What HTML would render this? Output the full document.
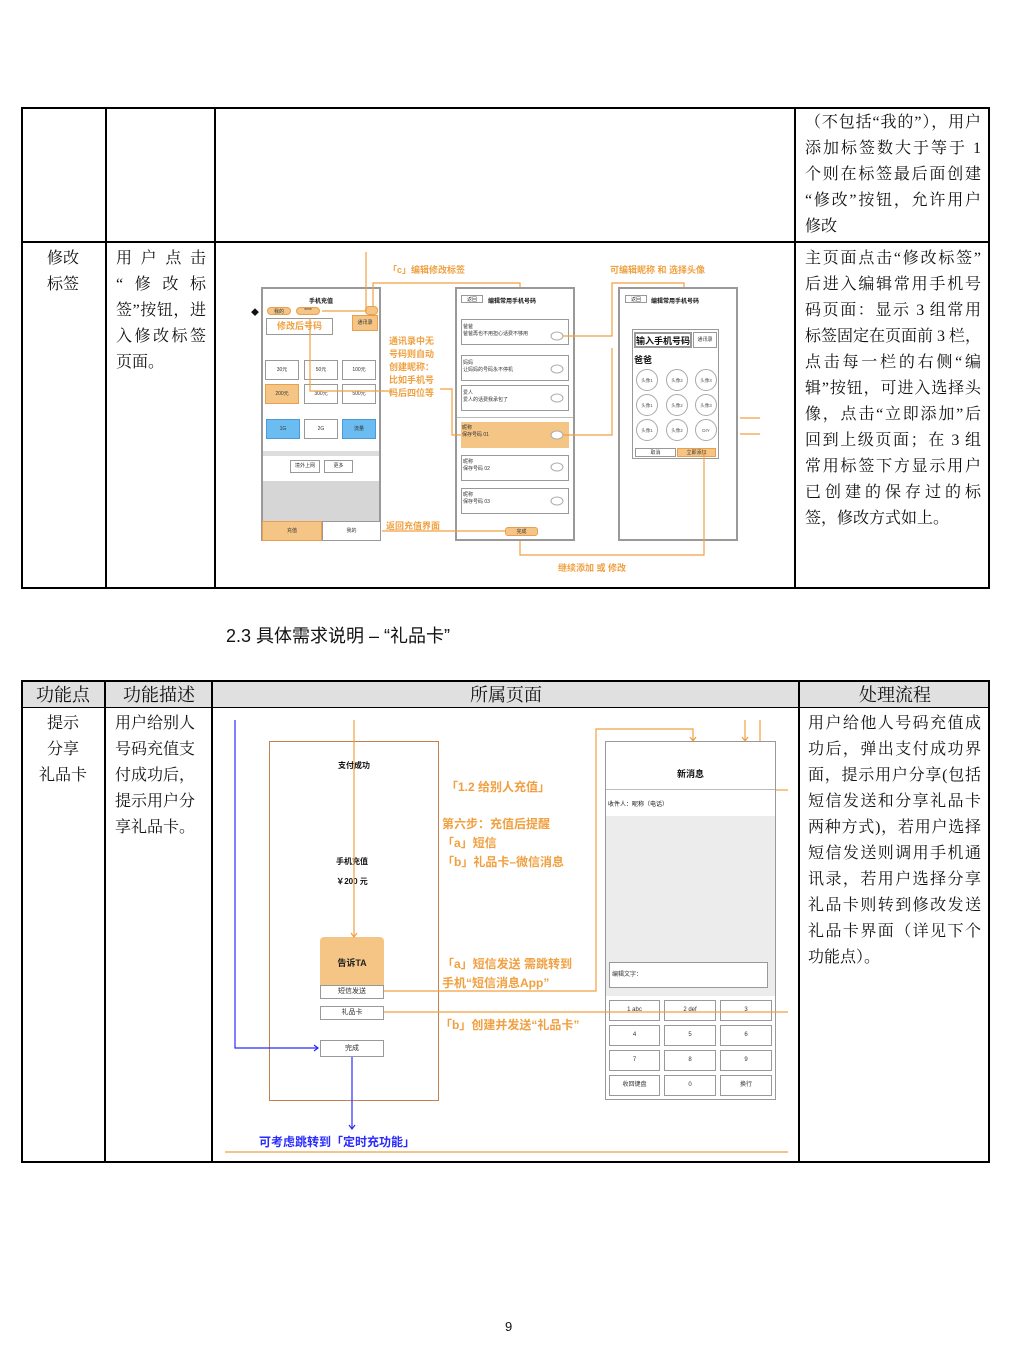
<!DOCTYPE html>
<html><head><meta charset="utf-8"><style>
body{margin:0;width:1015px;height:1361px;background:#fff;position:relative;overflow:hidden;font-family:"Liberation Serif","Noto Serif CJK SC",serif;color:#111}
.a{position:absolute}
.t{position:absolute;font-size:16px;line-height:26px;white-space:nowrap}
.j{text-align:justify;text-align-last:justify}
.s{font-family:"Liberation Sans","Noto Sans CJK SC",sans-serif}
.o{color:#f0a040;font-family:"Liberation Sans","Noto Sans CJK SC",sans-serif;font-weight:bold;position:absolute;white-space:nowrap}
.b{position:absolute;border:1px solid #999;background:#fff;box-sizing:border-box;font-family:"Liberation Sans","Noto Sans CJK SC",sans-serif;font-size:5px;text-align:center;color:#333}
.ob{background:#f5c585;border-color:#e8a050}
</style></head><body>
<!-- Table 1 -->
<div class="a" style="left:21px;top:107px;width:969px;height:482px;border:2px solid #000;box-sizing:border-box"></div>
<div class="a" style="left:105px;top:107px;width:2px;height:482px;background:#000"></div>
<div class="a" style="left:214px;top:107px;width:2px;height:482px;background:#000"></div>
<div class="a" style="left:794px;top:107px;width:2px;height:482px;background:#000"></div>
<div class="a" style="left:21px;top:241px;width:969px;height:2px;background:#000"></div>

<div class="t j" style="left:805px;top:110px;width:176px">（不包括“我的”），用户</div>
<div class="t j" style="left:805px;top:136px;width:176px">添加标签数大于等于 1</div>
<div class="t j" style="left:805px;top:162px;width:176px">个则在标签最后面创建</div>
<div class="t j" style="left:805px;top:188px;width:176px">“修改”按钮，允许用户</div>
<div class="t" style="left:805px;top:214px">修改</div>

<div class="t" style="left:47px;top:246px">修改</div>
<div class="t" style="left:47px;top:272px">标签</div>
<div class="t j" style="left:116px;top:246px;width:90px">用户点击</div>
<div class="t j" style="left:116px;top:272px;width:90px">“修改标</div>
<div class="t j" style="left:116px;top:298px;width:90px">签”按钮，进</div>
<div class="t j" style="left:116px;top:324px;width:90px">入修改标签</div>
<div class="t" style="left:116px;top:350px">页面。</div>

<div class="t j" style="left:805px;top:246px;width:176px">主页面点击“修改标签”</div>
<div class="t j" style="left:805px;top:272px;width:176px">后进入编辑常用手机号</div>
<div class="t j" style="left:805px;top:298px;width:176px">码页面：显示 3 组常用</div>
<div class="t j" style="left:805px;top:324px;width:176px">标签固定在页面前 3 栏，</div>
<div class="t j" style="left:805px;top:350px;width:176px">点击每一栏的右侧“编</div>
<div class="t j" style="left:805px;top:376px;width:176px">辑”按钮，可进入选择头</div>
<div class="t j" style="left:805px;top:402px;width:176px">像，点击“立即添加”后</div>
<div class="t j" style="left:805px;top:428px;width:176px">回到上级页面；在 3 组</div>
<div class="t j" style="left:805px;top:454px;width:176px">常用标签下方显示用户</div>
<div class="t j" style="left:805px;top:480px;width:176px">已创建的保存过的标</div>
<div class="t" style="left:805px;top:506px">签，修改方式如上。</div>

<!-- Diagram 1 phones -->
<div class="b" style="left:261px;top:287px;width:120px;height:254px;border:2px solid #999"></div>
<div class="a s" style="left:261px;top:296px;width:120px;text-align:center;font-size:6px;font-weight:bold">手机充值</div>
<div class="b ob" style="left:267px;top:307px;width:24px;height:8px;border-radius:4px">我的</div>
<div class="b ob" style="left:296px;top:307px;width:24px;height:8px;border-radius:4px">****</div>
<div class="b ob" style="left:365px;top:306px;width:13px;height:9px;border-radius:4px"></div>
<div class="b" style="left:266px;top:318px;width:67px;height:17px;color:#f0a040;font-size:9px;line-height:15px;font-weight:bold">修改后号码</div>
<div class="b ob" style="left:352px;top:315px;width:26px;height:16px;line-height:14px">通讯录</div>
<div class="b" style="left:265px;top:360px;width:34px;height:20px;line-height:18px">30元</div>
<div class="b" style="left:304px;top:360px;width:34px;height:20px;line-height:18px">50元</div>
<div class="b" style="left:342px;top:360px;width:34px;height:20px;line-height:18px">100元</div>
<div class="b ob" style="left:265px;top:384px;width:34px;height:20px;line-height:18px">200元</div>
<div class="b" style="left:304px;top:384px;width:34px;height:20px;line-height:18px">300元</div>
<div class="b" style="left:342px;top:384px;width:34px;height:20px;line-height:18px">500元</div>
<div class="b" style="left:266px;top:419px;width:34px;height:20px;background:#6bbcf0;border-color:#4a9ad8;line-height:18px">1G</div>
<div class="b" style="left:304px;top:419px;width:34px;height:20px;line-height:18px">2G</div>
<div class="b" style="left:342px;top:419px;width:34px;height:20px;background:#6bbcf0;border-color:#4a9ad8;line-height:18px">流量</div>
<div class="a" style="left:263px;top:451px;width:116px;height:5px;background:#ddd"></div>
<div class="b" style="left:290px;top:460px;width:30px;height:13px;line-height:11px">境外上网</div>
<div class="b" style="left:324px;top:460px;width:29px;height:13px;line-height:11px">更多</div>
<div class="a" style="left:263px;top:481px;width:116px;height:40px;background:#d6d6d6"></div>
<div class="b ob" style="left:262px;top:521px;width:60px;height:20px;line-height:18px">充值</div>
<div class="b" style="left:322px;top:521px;width:59px;height:20px;line-height:18px">我的</div>

<div class="b" style="left:455px;top:287px;width:120px;height:254px;border:2px solid #999"></div>
<div class="b" style="left:461px;top:295px;width:22px;height:8px">返回</div>
<div class="a s" style="left:488px;top:296px;font-size:6px;font-weight:bold">编辑常用手机号码</div>
<div class="b" style="left:461px;top:319px;width:108px;height:26px;text-align:left;padding:3px 1px">爸爸<br>爸爸再也不用担心话费不够用</div>
<div class="b" style="left:461px;top:355px;width:108px;height:26px;text-align:left;padding:3px 1px">妈妈<br>让妈妈的号码永不停机</div>
<div class="b" style="left:461px;top:385px;width:108px;height:26px;text-align:left;padding:3px 1px">爱人<br>爱人的话费我承包了</div>
<div class="a" style="left:457px;top:417px;width:116px;height:1px;background:#bbb"></div>
<div class="b ob" style="left:461px;top:422px;width:108px;height:26px;text-align:left;padding:2px 1px;border:none">昵称<br>保存号码 01</div>
<div class="b" style="left:461px;top:455px;width:108px;height:26px;text-align:left;padding:2px 1px">昵称<br>保存号码 02</div>
<div class="b" style="left:461px;top:488px;width:108px;height:26px;text-align:left;padding:2px 1px">昵称<br>保存号码 03</div>
<div class="b ob" style="left:505px;top:527px;width:33px;height:9px;border-radius:3px">完成</div>

<div class="b" style="left:618px;top:287px;width:120px;height:254px;border:2px solid #999"></div>
<div class="b" style="left:625px;top:295px;width:22px;height:8px">返回</div>
<div class="a s" style="left:651px;top:296px;font-size:6px;font-weight:bold">编辑常用手机号码</div>
<div class="b" style="left:632px;top:329px;width:87px;height:130px"></div>
<div class="b" style="left:634px;top:332px;width:58px;height:16px;font-size:9px;font-weight:bold;color:#111;line-height:14px;border-width:2px">输入手机号码</div>
<div class="b" style="left:693px;top:332px;width:24px;height:16px;line-height:14px">通讯录</div>
<div class="a s" style="left:634px;top:353px;font-size:9px;font-weight:bold">爸爸</div>
<svg class="a" style="left:0;top:0" width="1015" height="1361">
<g fill="#fff" stroke="#aaa">
<circle cx="647" cy="380" r="10.5"/><circle cx="677" cy="380" r="10.5"/><circle cx="706" cy="380" r="10.5"/>
<circle cx="647" cy="405" r="10.5"/><circle cx="677" cy="405" r="10.5"/><circle cx="706" cy="405" r="10.5"/>
<circle cx="647" cy="430" r="10.5"/><circle cx="677" cy="430" r="10.5"/><circle cx="706" cy="430" r="10.5"/>
<ellipse cx="557" cy="336" rx="6" ry="4"/><ellipse cx="557" cy="369" rx="6" ry="4"/><ellipse cx="557" cy="398" rx="6" ry="4"/><ellipse cx="557" cy="435" rx="6" ry="4"/><ellipse cx="557" cy="467" rx="6" ry="4"/><ellipse cx="557" cy="501" rx="6" ry="4"/>
</g>
<g fill="#555" font-size="4.5" font-family="Liberation Sans,Noto Sans CJK SC,sans-serif" text-anchor="middle">
<text x="647" y="382">头像1</text><text x="677" y="382">头像2</text><text x="706" y="382">头像3</text>
<text x="647" y="407">头像1</text><text x="677" y="407">头像2</text><text x="706" y="407">头像3</text>
<text x="647" y="432">头像1</text><text x="677" y="432">头像2</text><text x="706" y="432">DIY</text>
</g>
</svg>
<div class="b" style="left:635px;top:448px;width:41px;height:9px">取消</div>
<div class="b ob" style="left:677px;top:448px;width:39px;height:9px">立即添加</div>

<svg class="a" style="left:0;top:0" width="1015" height="1361" fill="none" stroke="#f0a040" stroke-width="1.2">
<path d="M366 252V311H322"/>
<path d="M373 306V283H520V287"/>
<path d="M310 318V391H392V390M440 389H452V435H461"/>
<path d="M563 336H612V283H684V287"/>
<path d="M563 435H612V348"/>
<path d="M704 450V555H520V541"/>
<path d="M505 531H382"/>
<path d="M740 418H760M740 434H760"/>
</svg>
<div class="o" style="left:388px;top:263px;font-size:9px">「c」编辑修改标签</div>
<div class="o" style="left:610px;top:263px;font-size:9px">可编辑昵称 和 选择头像</div>
<div class="o" style="left:389px;top:335px;font-size:9px;line-height:13px">通讯录中无<br>号码则自动<br>创建昵称：<br>比如手机号<br>码后四位等</div>
<div class="o" style="left:386px;top:519px;font-size:9px">返回充值界面</div>
<div class="o" style="left:558px;top:561px;font-size:9px">继续添加 或 修改</div>
<div class="a" style="left:251px;top:307px;font-size:8px">◆</div>

<!-- Title -->
<div class="t" style="left:226px;top:623px;font-size:18px;line-height:26px;font-family:'Liberation Sans','Noto Sans CJK SC',sans-serif">2.3 具体需求说明 – “礼品卡”</div>

<!-- Table 2 -->
<div class="a" style="left:21px;top:681px;width:969px;height:27px;background:#e0e0e0"></div>
<div class="a" style="left:21px;top:680px;width:969px;height:483px;border:2px solid #000;box-sizing:border-box"></div>
<div class="a" style="left:21px;top:707px;width:969px;height:1px;background:#000"></div>
<div class="a" style="left:104px;top:680px;width:2px;height:483px;background:#000"></div>
<div class="a" style="left:211px;top:680px;width:2px;height:483px;background:#000"></div>
<div class="a" style="left:798px;top:680px;width:2px;height:483px;background:#000"></div>
<div class="t" style="left:21px;top:682px;width:84px;text-align:center;font-size:18px">功能点</div>
<div class="t" style="left:106px;top:682px;width:106px;text-align:center;font-size:18px">功能描述</div>
<div class="t" style="left:213px;top:682px;width:586px;text-align:center;font-size:18px">所属页面</div>
<div class="t" style="left:800px;top:682px;width:190px;text-align:center;font-size:18px">处理流程</div>

<div class="t" style="left:21px;top:711px;width:84px;text-align:center">提示<br>分享<br>礼品卡</div>
<div class="t" style="left:115px;top:711px">用户给别人<br>号码充值支<br>付成功后，<br>提示用户分<br>享礼品卡。</div>
<div class="t j" style="left:808px;top:711px;width:173px">用户给他人号码充值成</div>
<div class="t j" style="left:808px;top:737px;width:173px">功后，弹出支付成功界</div>
<div class="t j" style="left:808px;top:763px;width:173px">面，提示用户分享(包括</div>
<div class="t j" style="left:808px;top:789px;width:173px">短信发送和分享礼品卡</div>
<div class="t j" style="left:808px;top:815px;width:173px">两种方式)，若用户选择</div>
<div class="t j" style="left:808px;top:841px;width:173px">短信发送则调用手机通</div>
<div class="t j" style="left:808px;top:867px;width:173px">讯录，若用户选择分享</div>
<div class="t j" style="left:808px;top:893px;width:173px">礼品卡则转到修改发送</div>
<div class="t j" style="left:808px;top:919px;width:173px">礼品卡界面（详见下个</div>
<div class="t" style="left:808px;top:945px">功能点）。</div>

<!-- Diagram 2 -->
<div class="a" style="left:269px;top:741px;width:170px;height:360px;border:1px solid #c08050;box-sizing:border-box"></div>
<div class="a s" style="left:269px;top:760px;width:170px;text-align:center;font-size:8px;font-weight:bold">支付成功</div>
<div class="a s" style="left:269px;top:856px;width:166px;text-align:center;font-size:8px;font-weight:bold">手机充值</div>
<div class="a s" style="left:269px;top:876px;width:166px;text-align:center;font-size:8px;font-weight:bold">￥200 元</div>
<div class="b ob" style="left:320px;top:937px;width:64px;height:56px;border-radius:4px;font-size:9px;font-weight:bold;color:#222;line-height:52px;border:none">告诉TA</div>
<div class="b" style="left:320px;top:985px;width:64px;height:14px;line-height:12px;font-size:7px">短信发送</div>
<div class="b" style="left:320px;top:1006px;width:64px;height:14px;line-height:12px;font-size:7px">礼品卡</div>
<div class="b" style="left:320px;top:1040px;width:64px;height:17px;line-height:15px;font-size:7px">完成</div>

<div class="b" style="left:605px;top:741px;width:171px;height:359px"></div>
<div class="a s" style="left:605px;top:767px;width:171px;text-align:center;font-size:9px;font-weight:bold">新消息</div>
<div class="a" style="left:606px;top:789px;width:169px;height:1px;background:#bbb"></div>
<div class="a s" style="left:608px;top:799px;font-size:6px">收件人：昵称（电话）</div>
<div class="a" style="left:606px;top:816px;width:169px;height:180px;background:#ececec"></div>
<div class="b" style="left:609px;top:962px;width:159px;height:26px;text-align:left;line-height:24px;padding-left:2px;font-size:6px">编辑文字：</div>
<div class="b" style="left:609px;top:1000px;width:51px;height:21px;line-height:19px;font-size:6px">1 abc</div>
<div class="b" style="left:664px;top:1000px;width:52px;height:21px;line-height:19px;font-size:6px">2 def</div>
<div class="b" style="left:720px;top:1000px;width:52px;height:21px;line-height:19px;font-size:6px">3</div>
<div class="b" style="left:609px;top:1025px;width:51px;height:21px;line-height:19px;font-size:6px">4</div>
<div class="b" style="left:664px;top:1025px;width:52px;height:21px;line-height:19px;font-size:6px">5</div>
<div class="b" style="left:720px;top:1025px;width:52px;height:21px;line-height:19px;font-size:6px">6</div>
<div class="b" style="left:609px;top:1050px;width:51px;height:21px;line-height:19px;font-size:6px">7</div>
<div class="b" style="left:664px;top:1050px;width:52px;height:21px;line-height:19px;font-size:6px">8</div>
<div class="b" style="left:720px;top:1050px;width:52px;height:21px;line-height:19px;font-size:6px">9</div>
<div class="b" style="left:609px;top:1075px;width:51px;height:21px;line-height:19px;font-size:6px">收回键盘</div>
<div class="b" style="left:664px;top:1075px;width:52px;height:21px;line-height:19px;font-size:6px">0</div>
<div class="b" style="left:720px;top:1075px;width:52px;height:21px;line-height:19px;font-size:6px">换行</div>

<svg class="a" style="left:0;top:0" width="1015" height="1361" fill="none" stroke-width="1.2">
<g stroke="#f0a040">
<path d="M354 720V937"/><path d="M351 933l3 4 3-4"/>
<path d="M384 991H596V729H693V740"/><path d="M690 737l3 4 3-4"/>
<path d="M745 720V740"/><path d="M742 737l3 4 3-4"/>
<path d="M760 720V741"/><path d="M776 790H788"/>
<path d="M384 1012H788"/>
<path d="M225 1152H788"/>
</g>
<g stroke="#2a2aff">
<path d="M235 720V1048H318"/><path d="M314 1045l4 3-4 3"/>
<path d="M352 1057V1128"/><path d="M349 1125l3 4 3-4"/>
</g>
</svg>
<div class="o" style="left:446px;top:778px;font-size:12px">「1.2 给别人充值」</div>
<div class="o" style="left:442px;top:815px;font-size:12px;line-height:19px">第六步：充值后提醒<br>「a」短信<br>「b」礼品卡–微信消息</div>
<div class="o" style="left:442px;top:955px;font-size:12px;line-height:19px">「a」短信发送 需跳转到<br>手机“短信消息App”</div>
<div class="o" style="left:440px;top:1016px;font-size:12px">「b」创建并发送“礼品卡”</div>
<div class="a s" style="left:259px;top:1133px;font-size:12px;font-weight:bold;color:#2a2aff">可考虑跳转到「定时充功能」</div>

<div class="a s" style="left:505px;top:1319px;font-size:13px">9</div>
</body></html>
